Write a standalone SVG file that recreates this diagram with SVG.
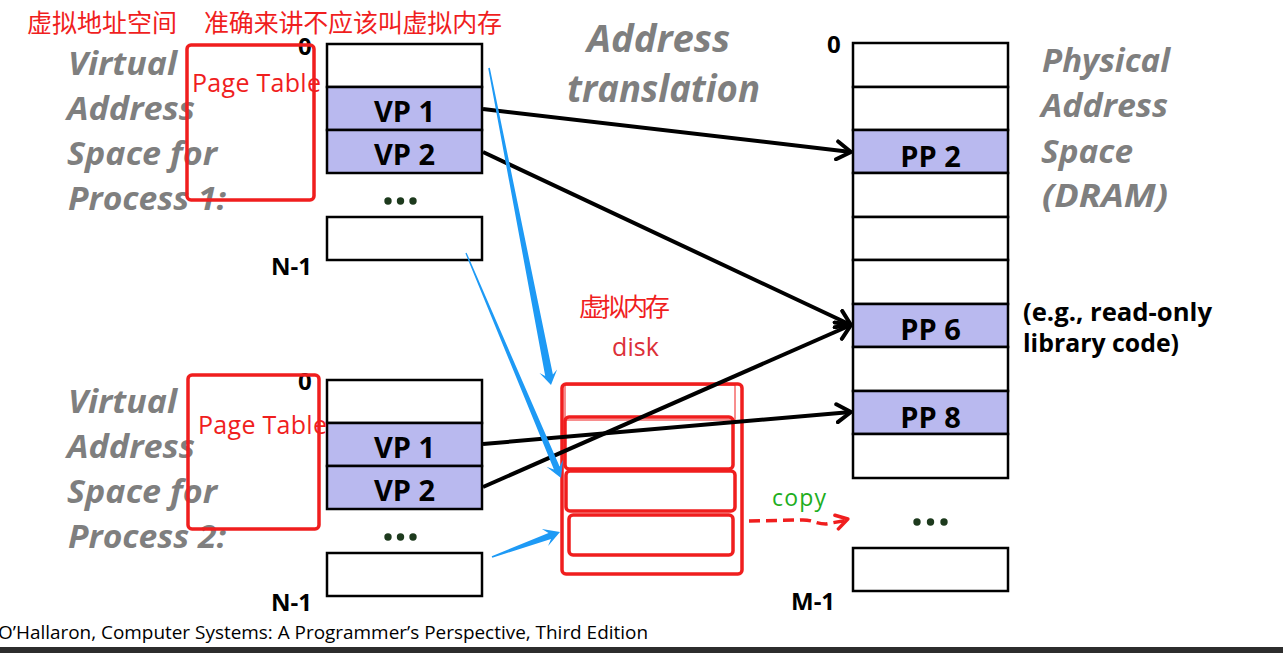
<svg xmlns="http://www.w3.org/2000/svg" width="1283" height="653" viewBox="0 0 1283 653">
<defs>
<style>
.bg{fill:#ffffff}
.cell{fill:#ffffff;stroke:#000;stroke-width:2.5}
.vp{fill:#b9b9ef;stroke:#000;stroke-width:2.5}
.lbl{font-family:"Open Sans","Liberation Sans",sans-serif;font-weight:bold;font-size:29px;fill:#000;text-anchor:middle}
.idx{font-family:"Open Sans","Liberation Sans",sans-serif;font-weight:bold;font-size:24px;fill:#000}
.gray{font-family:"Open Sans","Liberation Sans",sans-serif;font-weight:bold;font-style:italic;font-size:33px;fill:#7f7f7f}
.big{font-family:"Open Sans","Liberation Sans",sans-serif;font-weight:bold;font-style:italic;font-size:37px;fill:#7f7f7f}
.note{font-family:"Open Sans","Liberation Sans",sans-serif;font-weight:bold;font-size:25px;fill:#000}
.red{font-family:"Noto Sans CJK SC","Open Sans",sans-serif;font-size:25px;fill:#f01e1e}
.redl{font-family:"Open Sans","Liberation Sans",sans-serif;font-size:25px;fill:#f01e1e}
.pt{fill:none;stroke:#f01e1e;stroke-width:3.5}
.dot{fill:#1d3a1d}
.conn{fill:none;stroke:#000;stroke-width:4}
.blue{fill:#1e9af5}
.foot{font-family:"Open Sans","Liberation Sans",sans-serif;font-size:18px;fill:#000}
</style>
<marker id="chev" markerUnits="userSpaceOnUse" viewBox="0 0 18 22" refX="16" refY="11" markerWidth="18" markerHeight="22" orient="auto">
<path d="M2,2 L16,11 L2,20" fill="none" stroke="#000" stroke-width="4" stroke-linecap="round" stroke-linejoin="round"/>
</marker>
<marker id="rchev" markerUnits="userSpaceOnUse" viewBox="0 0 16 18" refX="14" refY="9" markerWidth="16" markerHeight="18" orient="auto">
<path d="M2,2 L14,8 L3,16" fill="none" stroke="#f01e1e" stroke-width="3.5" stroke-linecap="round" stroke-linejoin="round"/>
</marker>
</defs>
<rect class="bg" x="0" y="0" width="1283" height="653"/>

<!-- top annotations -->
<text class="red" x="27" y="32">虚拟地址空间</text>
<text class="red" x="204" y="32" textLength="298">准确来讲不应该叫虚拟内存</text>
<text class="big" x="587" y="52" textLength="143" lengthAdjust="spacingAndGlyphs">Address</text>
<text class="big" x="567" y="102" textLength="193" lengthAdjust="spacingAndGlyphs">translation</text>

<!-- Process 1 -->
<g id="proc1-label">
<text class="gray" x="68" y="75" textLength="109" lengthAdjust="spacingAndGlyphs">Virtual</text>
<text class="gray" x="67" y="120" textLength="128" lengthAdjust="spacingAndGlyphs">Address</text>
<text class="gray" x="67" y="165" textLength="150" lengthAdjust="spacingAndGlyphs">Space for</text>
<text class="gray" x="68" y="210" textLength="158" lengthAdjust="spacingAndGlyphs">Process 1:</text>
</g>
<g id="proc1-vas">
<rect class="cell" x="327" y="44" width="155" height="43"/>
<rect class="vp" x="327" y="87" width="155" height="43"/>
<rect class="vp" x="327" y="130" width="155" height="43"/>
<text class="lbl" x="404.5" y="122">VP 1</text>
<text class="lbl" x="404.5" y="165">VP 2</text>
<circle class="dot" cx="388" cy="201" r="3.7"/><circle class="dot" cx="400.5" cy="201" r="3.7"/><circle class="dot" cx="413" cy="201" r="3.7"/>
<rect class="cell" x="327" y="217" width="155" height="43"/>
<text class="idx" x="298" y="55">0</text>
<text class="idx" x="271" y="275">N-1</text>
</g>
<g id="proc1-pagetable">
<rect class="pt" x="187" y="45" width="127" height="155" rx="4"/>
<text class="redl" x="192" y="92" textLength="129">Page Table</text>
</g>

<!-- Process 2 -->
<g id="proc2-label">
<text class="gray" x="68" y="413" textLength="109" lengthAdjust="spacingAndGlyphs">Virtual</text>
<text class="gray" x="67" y="458" textLength="128" lengthAdjust="spacingAndGlyphs">Address</text>
<text class="gray" x="67" y="503" textLength="150" lengthAdjust="spacingAndGlyphs">Space for</text>
<text class="gray" x="68" y="548" textLength="158" lengthAdjust="spacingAndGlyphs">Process 2:</text>
</g>
<g id="proc2-vas">
<rect class="cell" x="327" y="380" width="155" height="43"/>
<rect class="vp" x="327" y="423" width="155" height="43"/>
<rect class="vp" x="327" y="466" width="155" height="43"/>
<text class="lbl" x="404.5" y="458">VP 1</text>
<text class="lbl" x="404.5" y="501">VP 2</text>
<circle class="dot" cx="388" cy="537" r="3.7"/><circle class="dot" cx="400.5" cy="537" r="3.7"/><circle class="dot" cx="413" cy="537" r="3.7"/>
<rect class="cell" x="327" y="553" width="155" height="43"/>
<text class="idx" x="298" y="390">0</text>
<text class="idx" x="271" y="611">N-1</text>
</g>
<g id="proc2-pagetable">
<rect class="pt" x="188" y="375" width="131" height="154" rx="4"/>
<text class="redl" x="198" y="434" textLength="129">Page Table</text>
</g>

<!-- Physical memory -->
<g id="physical">
<rect class="cell" x="853" y="43" width="155" height="44"/>
<rect class="cell" x="853" y="87" width="155" height="43"/>
<rect class="vp" x="853" y="130" width="155" height="43"/>
<rect class="cell" x="853" y="173" width="155" height="44"/>
<rect class="cell" x="853" y="217" width="155" height="43"/>
<rect class="cell" x="853" y="260" width="155" height="44"/>
<rect class="vp" x="853" y="304" width="155" height="43"/>
<rect class="cell" x="853" y="347" width="155" height="44"/>
<rect class="vp" x="853" y="391" width="155" height="43"/>
<rect class="cell" x="853" y="434" width="155" height="44"/>
<text class="lbl" x="930.5" y="167">PP 2</text>
<text class="lbl" x="930.5" y="340">PP 6</text>
<text class="lbl" x="930.5" y="428">PP 8</text>
<circle class="dot" cx="917" cy="522" r="3.7"/><circle class="dot" cx="930.5" cy="522" r="3.7"/><circle class="dot" cx="944" cy="522" r="3.7"/>
<rect class="cell" x="853" y="548" width="155" height="43"/>
<text class="idx" x="827" y="53">0</text>
<text class="idx" x="791" y="610">M-1</text>
</g>
<g id="physical-label">
<text class="gray" x="1042" y="72" textLength="128" lengthAdjust="spacingAndGlyphs">Physical</text>
<text class="gray" x="1041" y="117" textLength="127" lengthAdjust="spacingAndGlyphs">Address</text>
<text class="gray" x="1041" y="163" textLength="92" lengthAdjust="spacingAndGlyphs">Space</text>
<text class="gray" x="1042" y="207" textLength="126" lengthAdjust="spacingAndGlyphs">(DRAM)</text>
<text class="note" x="1023" y="321" textLength="189" lengthAdjust="spacingAndGlyphs">(e.g., read-only</text>
<text class="note" x="1023" y="352" textLength="156" lengthAdjust="spacingAndGlyphs">library code)</text>
</g>

<!-- Disk -->
<g id="disk">
<text class="red" x="579" y="316" font-size="22" textLength="91">虚拟内存</text>
<text class="redl" x="612" y="356" style="fill:#dc3038" textLength="47">disk</text>
<rect class="pt" x="562" y="384" width="180" height="190" rx="4"/>
<rect x="565" y="385" width="170" height="35" fill="none" stroke="#f01e1e" stroke-width="1"/>
<rect class="pt" x="565" y="417" width="168" height="52" rx="4" stroke-width="3.5"/>
<rect class="pt" x="566" y="471" width="169" height="40" rx="4" stroke-width="4.5"/>
<rect class="pt" x="569" y="515" width="164" height="40" rx="4" stroke-width="3.5"/>
</g>

<!-- connectors -->
<g id="connectors">
<line class="conn" x1="483" y1="109" x2="851" y2="152" marker-end="url(#chev)"/>
<line class="conn" x1="483" y1="152" x2="851" y2="325" marker-end="url(#chev)"/>
<line class="conn" x1="483" y1="444" x2="851" y2="412" marker-end="url(#chev)"/>
<line class="conn" x1="483" y1="487" x2="851" y2="325" marker-end="url(#chev)"/>
<polygon class="blue" points="488.2,68.2 545.2,376 539.5,373 551,385 557.1,369.6 552.9,374.5 489.8,67.8"/>
<polygon class="blue" points="465.4,253.3 553.9,469.4 546.5,466.8 561,478 563.1,459.8 559.6,466.6 466.6,252.7"/>
<polygon class="blue" points="492.3,557.8 551,538.9 548.1,546 560,532 541.9,529 548.5,532.9 491.7,556.2"/>
<path d="M749,521 L800,520 C812,519 815,524 826,524 L848,520" fill="none" stroke="#f01e1e" stroke-width="3.5" stroke-dasharray="11 6" marker-end="url(#rchev)"/>
<text x="772" y="506" font-family="Open Sans, Liberation Sans, sans-serif" font-size="23" fill="#1eae1e" textLength="54">copy</text>
</g>

<!-- footer -->
<text class="foot" x="-2" y="639" textLength="650" lengthAdjust="spacingAndGlyphs">O’Hallaron, Computer Systems: A Programmer’s Perspective, Third Edition</text>
<rect x="0" y="647" width="1283" height="6" fill="#2d2d2d"/>
</svg>
